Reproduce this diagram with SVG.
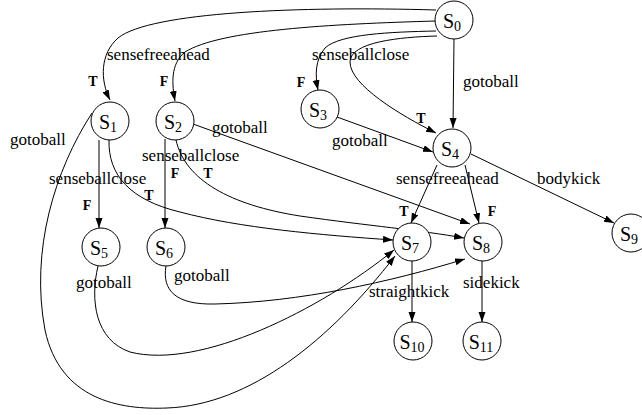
<svg xmlns="http://www.w3.org/2000/svg" width="642" height="415" viewBox="0 0 642 415">
<style>
.n circle{fill:#fff;stroke:#000;stroke-width:1}
.n text{font-family:"Liberation Serif",serif;font-size:20px;text-anchor:middle;fill:#000}
.n tspan{font-size:14px}
.e path{fill:none;stroke:#000;stroke-width:1;marker-end:url(#ah)}
.l{font-family:"Liberation Serif",serif;font-size:17px;fill:#000}
.b{font-family:"Liberation Serif",serif;font-size:14px;font-weight:bold;text-anchor:middle;fill:#000}
</style>
<defs>
<marker id="ah" markerUnits="userSpaceOnUse" markerWidth="11" markerHeight="8" refX="10" refY="3.5" orient="auto">
<path d="M0,0 L10,3.5 L0,7 z" fill="#000"/>
</marker>
</defs>
<rect width="642" height="415" fill="#fff"/>
<g id="connectors" class="e">
<path d="M436,10 C300,6 150,12 118,38 C100,54 100,80 110,100"/>
<path d="M436,21 C330,24 220,30 185,52 C170,64 172,85 175,101"/>
<path d="M436,31 C390,32 340,34 325,48 C315,60 315,75 318,90"/>
<path d="M437,36 C400,37 350,42 350,62 C350,85 400,115 436,133"/>
<path d="M454,39 L453,128"/>
<path d="M99,140 L99,228"/>
<path d="M109,140 C108,175 130,200 180,212 C240,228 320,235 393,240"/>
<path d="M92,113 C55,170 30,250 45,330 C60,400 120,410 167,408 C250,405 330,340 395,256"/>
<path d="M165,139 L165,228"/>
<path d="M176,140 C185,180 230,205 300,216 C370,226 420,230 464,238"/>
<path d="M193,124 L470,224"/>
<path d="M337,117 L433,152"/>
<path d="M437,165 L411,223"/>
<path d="M465,165 L479,223"/>
<path d="M471,154 L614,223"/>
<path d="M98,266 C90,300 95,340 130,352 C200,370 320,310 394,250"/>
<path d="M166,266 C162,290 175,305 215,304 C300,302 390,282 465,259"/>
<path d="M412,261 L412,322"/>
<path d="M482,261 L482,322"/>
</g>
<g id="labels">
<text class="l" x="107" y="60">sensefreeahead</text>
<text class="l" x="312" y="60">senseballclose</text>
<text class="l" x="463" y="87">gotoball</text>
<text class="l" x="10" y="145">gotoball</text>
<text class="l" x="212" y="133">gotoball</text>
<text class="l" x="332" y="146">gotoball</text>
<text class="l" x="49" y="184">senseballclose</text>
<text class="l" x="142" y="161">senseballclose</text>
<text class="l" x="396" y="184">sensefreeahead</text>
<text class="l" x="537" y="184">bodykick</text>
<text class="l" x="76" y="288">gotoball</text>
<text class="l" x="174" y="281">gotoball</text>
<text class="l" x="369" y="297">straightkick</text>
<text class="l" x="463" y="288">sidekick</text>
<text class="b" x="93" y="86">T</text>
<text class="b" x="164" y="86">F</text>
<text class="b" x="301" y="87">F</text>
<text class="b" x="421" y="123">T</text>
<text class="b" x="87" y="210">F</text>
<text class="b" x="149" y="200">T</text>
<text class="b" x="175" y="178">F</text>
<text class="b" x="208" y="178">T</text>
<text class="b" x="404" y="216">T</text>
<text class="b" x="492" y="216">F</text>
</g>
<g id="S0" class="n"><circle cx="454" cy="20" r="19"/><text x="452" y="28">S<tspan dy="3">0</tspan></text></g>
<g id="S1" class="n"><circle cx="110" cy="121" r="19"/><text x="108" y="129">S<tspan dy="3">1</tspan></text></g>
<g id="S2" class="n"><circle cx="175" cy="121" r="19"/><text x="173" y="129">S<tspan dy="3">2</tspan></text></g>
<g id="S3" class="n"><circle cx="320" cy="109" r="19"/><text x="318" y="117">S<tspan dy="3">3</tspan></text></g>
<g id="S4" class="n"><circle cx="452" cy="148" r="19"/><text x="450" y="156">S<tspan dy="3">4</tspan></text></g>
<g id="S5" class="n"><circle cx="101" cy="247" r="19"/><text x="99" y="255">S<tspan dy="3">5</tspan></text></g>
<g id="S6" class="n"><circle cx="166" cy="247" r="19"/><text x="164" y="255">S<tspan dy="3">6</tspan></text></g>
<g id="S7" class="n"><circle cx="412" cy="242" r="19"/><text x="410" y="250">S<tspan dy="3">7</tspan></text></g>
<g id="S8" class="n"><circle cx="483" cy="242" r="19"/><text x="481" y="250">S<tspan dy="3">8</tspan></text></g>
<g id="S9" class="n"><circle cx="631" cy="233" r="19"/><text x="629" y="241">S<tspan dy="3">9</tspan></text></g>
<g id="S10" class="n"><circle cx="413" cy="341" r="19"/><text x="412" y="349">S<tspan dy="3">10</tspan></text></g>
<g id="S11" class="n"><circle cx="482" cy="341" r="19"/><text x="481" y="349">S<tspan dy="3">11</tspan></text></g>
</svg>
